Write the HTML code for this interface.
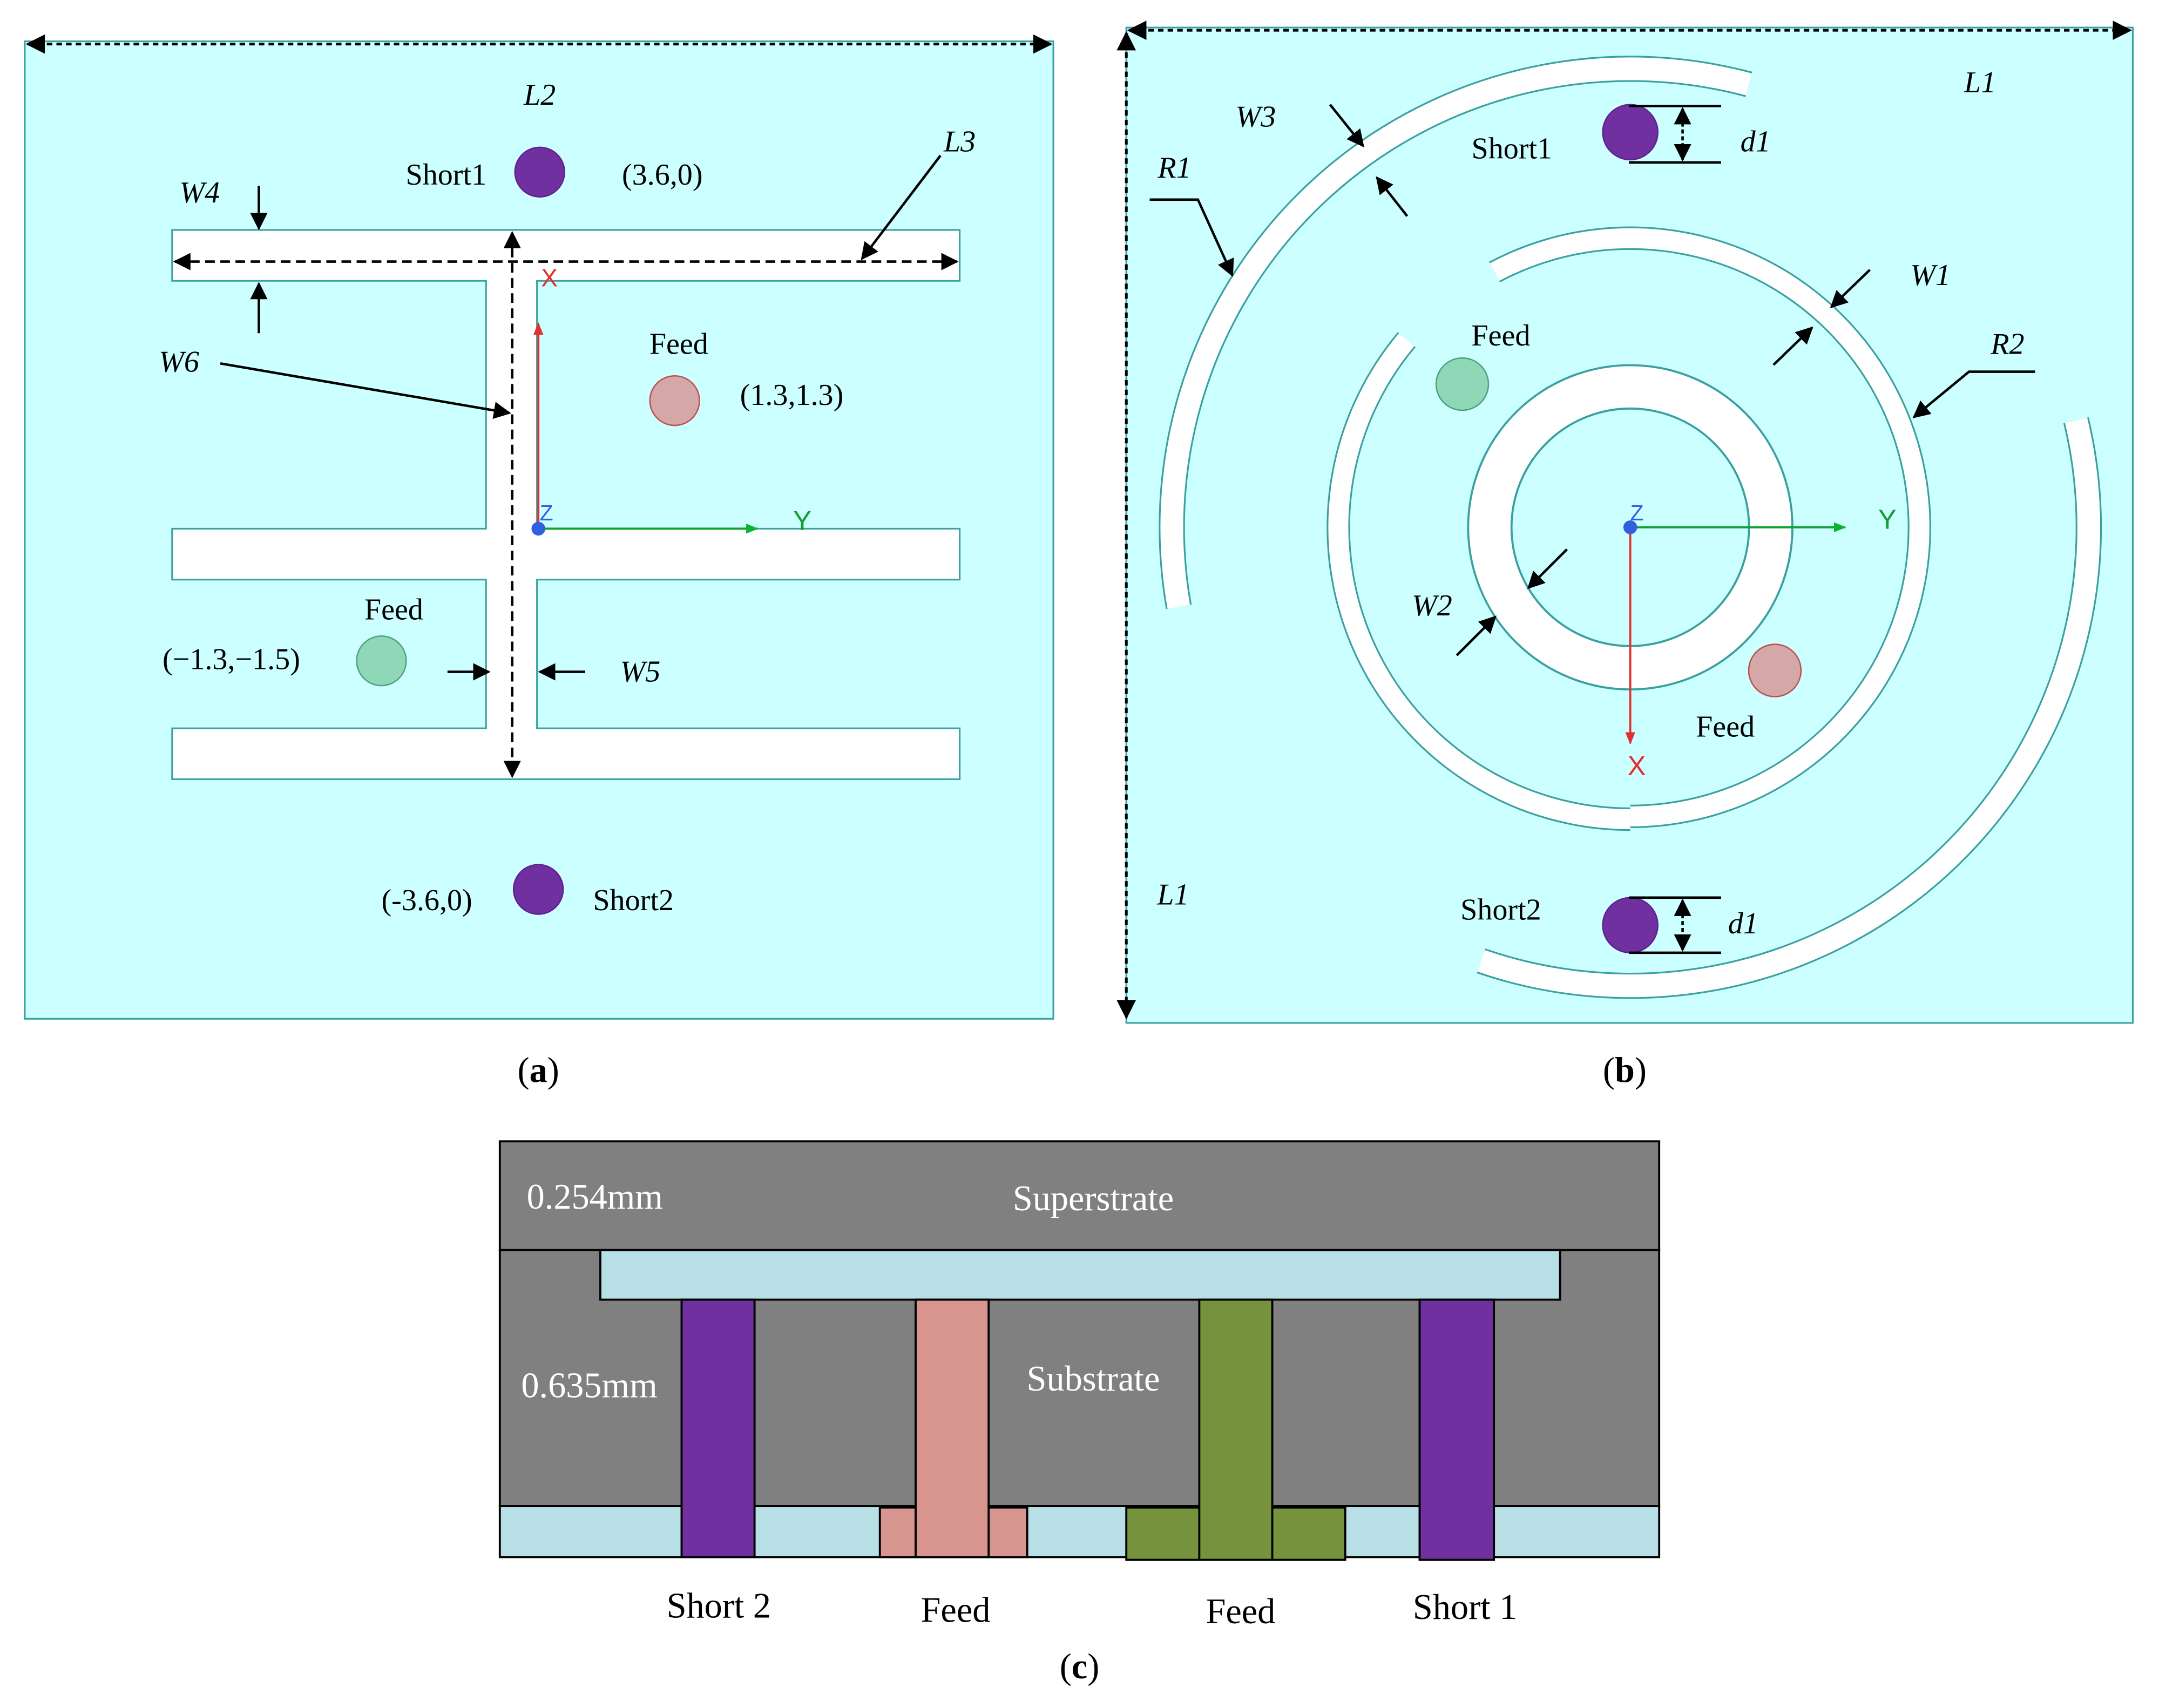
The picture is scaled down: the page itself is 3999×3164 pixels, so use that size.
<!DOCTYPE html>
<html><head><meta charset="utf-8"><style>
html,body{margin:0;padding:0;background:#fff;}
svg{display:block;}
text{font-family:"Liberation Serif",serif;}
text.s{font-family:"Liberation Sans",sans-serif;}
</style></head><body>
<svg width="3999" height="3164" viewBox="0 0 1568 1240.6" xmlns="http://www.w3.org/2000/svg">
<defs>
<marker id="ah" viewBox="0 0 10 10" refX="9" refY="5" markerWidth="7" markerHeight="7" orient="auto-start-reverse"><path d="M0,0 L10,5 L0,10 z" fill="#000"/></marker>
<marker id="ar" viewBox="0 0 10 10" refX="9" refY="5" markerWidth="6" markerHeight="6" orient="auto"><path d="M0,1 L10,5 L0,9 z" fill="#e03030"/></marker>
<marker id="ag" viewBox="0 0 10 10" refX="9" refY="5" markerWidth="6" markerHeight="6" orient="auto"><path d="M0,1 L10,5 L0,9 z" fill="#10b030"/></marker>
</defs>
<rect width="1568" height="1240.6" fill="#fff"/>
<!-- Panel a -->
<rect x="18" y="30" width="747" height="710" fill="#ccffff" stroke="#3aa0a0" stroke-width="1.2"/>
<line x1="20" y1="32" x2="763" y2="32" stroke="#000" stroke-width="2" stroke-dasharray="4,3" marker-start="url(#ah)" marker-end="url(#ah)"/>
<path d="M125,167 H697 V204 H390 V384 H697 V421 H390 V529 H697 V566 H125 V529 H353 V421 H125 V384 H353 V204 H125 Z" fill="#fff" stroke="#3aa0a0" stroke-width="1.2"/>
<line x1="127" y1="190" x2="695" y2="190" stroke="#000" stroke-width="1.8" stroke-dasharray="7,4" marker-start="url(#ah)" marker-end="url(#ah)"/>
<line x1="372" y1="169" x2="372" y2="564" stroke="#000" stroke-width="1.8" stroke-dasharray="7,4" marker-start="url(#ah)" marker-end="url(#ah)"/>
<line x1="391" y1="384" x2="391" y2="235" stroke="#e03030" stroke-width="1.5" marker-end="url(#ar)"/>
<line x1="391" y1="384" x2="550" y2="384" stroke="#10a030" stroke-width="1.5" marker-end="url(#ag)"/>
<circle cx="391" cy="384" r="5" fill="#3060e0"/>
<text class="s" x="393" y="208" font-size="18" fill="#e03030">X</text>
<text class="s" x="576" y="385" font-size="20" fill="#10a030">Y</text>
<text class="s" x="392" y="378" font-size="16" fill="#3060e0">Z</text>
<circle cx="392" cy="125" r="18" fill="#7030a0" stroke="#602090"/>
<circle cx="490" cy="291" r="18" fill="#d4a8a8" stroke="#c05050"/>
<circle cx="277" cy="480" r="18" fill="#8ed8b8" stroke="#50a080"/>
<circle cx="391" cy="646" r="18" fill="#7030a0" stroke="#602090"/>
<g font-size="22" fill="#000">
<text x="392" y="76" text-anchor="middle" font-style="italic">L2</text>
<text x="697" y="110" text-anchor="middle" font-style="italic">L3</text>
<text x="145" y="147" text-anchor="middle" font-style="italic">W4</text>
<text x="130" y="270" text-anchor="middle" font-style="italic">W6</text>
<text x="465" y="495" text-anchor="middle" font-style="italic">W5</text>
<text x="324" y="134" text-anchor="middle">Short1</text>
<text x="481" y="134" text-anchor="middle">(3.6,0)</text>
<text x="493" y="257" text-anchor="middle">Feed</text>
<text x="575" y="294" text-anchor="middle">(1.3,1.3)</text>
<text x="286" y="450" text-anchor="middle">Feed</text>
<text x="168" y="486" text-anchor="middle">(−1.3,−1.5)</text>
<text x="310" y="661" text-anchor="middle">(-3.6,0)</text>
<text x="460" y="661" text-anchor="middle">Short2</text>
<text x="391" y="786" text-anchor="middle" font-size="26">(<tspan font-weight="bold">a</tspan>)</text>
</g>
<g stroke="#000" stroke-width="1.8" fill="none">
<line x1="683" y1="113" x2="626" y2="188" marker-end="url(#ah)"/>
<line x1="188" y1="135" x2="188" y2="166" marker-end="url(#ah)"/>
<line x1="188" y1="242" x2="188" y2="206" marker-end="url(#ah)"/>
<line x1="160" y1="264" x2="370" y2="300" marker-end="url(#ah)"/>
<line x1="325" y1="488" x2="355" y2="488" marker-end="url(#ah)"/>
<line x1="425" y1="488" x2="392" y2="488" marker-end="url(#ah)"/>
</g>
<!-- Panel b -->
<rect x="818" y="20" width="731" height="723" fill="#ccffff" stroke="#3aa0a0" stroke-width="1.2"/>
<line x1="820" y1="22" x2="1547" y2="22" stroke="#000" stroke-width="2" stroke-dasharray="4,3" marker-start="url(#ah)" marker-end="url(#ah)"/>
<line x1="818" y1="24" x2="818" y2="739" stroke="#000" stroke-width="2" stroke-dasharray="4,3" marker-start="url(#ah)" marker-end="url(#ah)"/>
<circle cx="1184" cy="383" r="102" fill="none" stroke="#3aa0a0" stroke-width="33"/>
<circle cx="1184" cy="383" r="102" fill="none" stroke="#fff" stroke-width="30"/>
<g fill="none" stroke-linecap="butt">
<path d="M1085.4,197.6 A210,210 0 1,1 1184,593" stroke="#3aa0a0" stroke-width="17"/>
<path d="M1085.4,197.6 A210,210 0 1,1 1184,593" stroke="#fff" stroke-width="14.5"/>
<path d="M1021.6,246.7 A212,212 0 0,0 1184,595" stroke="#3aa0a0" stroke-width="17"/>
<path d="M1021.6,246.7 A212,212 0 0,0 1184,595" stroke="#fff" stroke-width="14.5"/>
<path d="M1270.2,61.3 A333,333 0 0,0 856.1,440.8" stroke="#3aa0a0" stroke-width="19"/>
<path d="M1270.2,61.3 A333,333 0 0,0 856.1,440.8" stroke="#fff" stroke-width="16.5"/>
<path d="M1507.8,305.3 A333,333 0 0,1 1075.6,697.9" stroke="#3aa0a0" stroke-width="19"/>
<path d="M1507.8,305.3 A333,333 0 0,1 1075.6,697.9" stroke="#fff" stroke-width="16.5"/>
</g>
<line x1="1184" y1="383" x2="1340" y2="383" stroke="#10a030" stroke-width="1.5" marker-end="url(#ag)"/>
<line x1="1184" y1="383" x2="1184" y2="540" stroke="#e03030" stroke-width="1.5" marker-end="url(#ar)"/>
<circle cx="1184" cy="383" r="5" fill="#3060e0"/>
<text class="s" x="1184" y="378" font-size="16" fill="#3060e0">Z</text>
<text class="s" x="1364" y="384" font-size="20" fill="#10a030">Y</text>
<text class="s" x="1182" y="563" font-size="20" fill="#e03030">X</text>
<circle cx="1184" cy="96" r="20" fill="#7030a0" stroke="#602090"/>
<circle cx="1062" cy="279" r="19" fill="#8ed8b8" stroke="#50a080"/>
<circle cx="1289" cy="487" r="19" fill="#d4a8a8" stroke="#c05050"/>
<circle cx="1184" cy="672" r="20" fill="#7030a0" stroke="#602090"/>
<g stroke="#000" stroke-width="1.8" fill="none">
<line x1="1183" y1="77" x2="1250" y2="77"/>
<line x1="1183" y1="118" x2="1250" y2="118"/>
<line x1="1222" y1="79" x2="1222" y2="116" stroke-dasharray="3,2" marker-start="url(#ah)" marker-end="url(#ah)"/>
<line x1="1183" y1="652" x2="1250" y2="652"/>
<line x1="1183" y1="692" x2="1250" y2="692"/>
<line x1="1222" y1="654" x2="1222" y2="690" stroke-dasharray="3,2" marker-start="url(#ah)" marker-end="url(#ah)"/>
<line x1="1358" y1="196" x2="1330" y2="223" marker-end="url(#ah)"/>
<line x1="1288" y1="265" x2="1316" y2="238" marker-end="url(#ah)"/>
<polyline points="1478,270 1430,270 1390,303" marker-end="url(#ah)"/>
<polyline points="835,145 870,145 895,200" marker-end="url(#ah)"/>
<line x1="966" y1="76" x2="990" y2="106" marker-end="url(#ah)"/>
<line x1="1022" y1="157" x2="1000" y2="129" marker-end="url(#ah)"/>
<line x1="1138" y1="399" x2="1110" y2="427" marker-end="url(#ah)"/>
<line x1="1058" y1="476" x2="1086" y2="448" marker-end="url(#ah)"/>
</g>
<g font-size="22" fill="#000">
<text x="1438" y="67" text-anchor="middle" font-style="italic">L1</text>
<text x="852" y="657" text-anchor="middle" font-style="italic">L1</text>
<text x="912" y="92" text-anchor="middle" font-style="italic">W3</text>
<text x="853" y="129" text-anchor="middle" font-style="italic">R1</text>
<text x="1275" y="110" text-anchor="middle" font-style="italic">d1</text>
<text x="1266" y="678" text-anchor="middle" font-style="italic">d1</text>
<text x="1402" y="207" text-anchor="middle" font-style="italic">W1</text>
<text x="1458" y="257" text-anchor="middle" font-style="italic">R2</text>
<text x="1040" y="447" text-anchor="middle" font-style="italic">W2</text>
<text x="1098" y="115" text-anchor="middle">Short1</text>
<text x="1090" y="251" text-anchor="middle">Feed</text>
<text x="1253" y="535" text-anchor="middle">Feed</text>
<text x="1090" y="668" text-anchor="middle">Short2</text>
<text x="1180" y="786" text-anchor="middle" font-size="26">(<tspan font-weight="bold">b</tspan>)</text>
</g>
<!-- Panel c -->
<g stroke="#000" stroke-width="1.5">
<rect x="363" y="829" width="842" height="79" fill="#808080"/>
<rect x="363" y="908" width="842" height="186" fill="#808080"/>
<rect x="363" y="1094" width="842" height="37" fill="#b8dfe6"/>
<rect x="436" y="908" width="697" height="36" fill="#b8dfe6"/>
<rect x="495" y="944" width="53" height="187" fill="#7030a0"/>
<rect x="1031" y="944" width="54" height="189" fill="#7030a0"/>
<rect x="639" y="1095" width="26" height="36" fill="#d8948e"/>
<rect x="718" y="1095" width="28" height="36" fill="#d8948e"/>
<rect x="665" y="944" width="53" height="187" fill="#d8948e"/>
<rect x="818" y="1095" width="53" height="38" fill="#76923c"/>
<rect x="924" y="1095" width="53" height="38" fill="#76923c"/>
<rect x="871" y="944" width="53" height="189" fill="#76923c"/>
</g>
<g font-size="26" fill="#fff">
<text x="432" y="878" text-anchor="middle">0.254mm</text>
<text x="794" y="879" text-anchor="middle">Superstrate</text>
<text x="794" y="1010" text-anchor="middle">Substrate</text>
<text x="428" y="1015" text-anchor="middle">0.635mm</text>
</g>
<g font-size="26" fill="#000">
<text x="522" y="1175" text-anchor="middle">Short 2</text>
<text x="694" y="1178" text-anchor="middle">Feed</text>
<text x="901" y="1179" text-anchor="middle">Feed</text>
<text x="1064" y="1176" text-anchor="middle">Short 1</text>
<text x="784" y="1219" text-anchor="middle">(<tspan font-weight="bold">c</tspan>)</text>
</g>
</svg>
</body></html>
